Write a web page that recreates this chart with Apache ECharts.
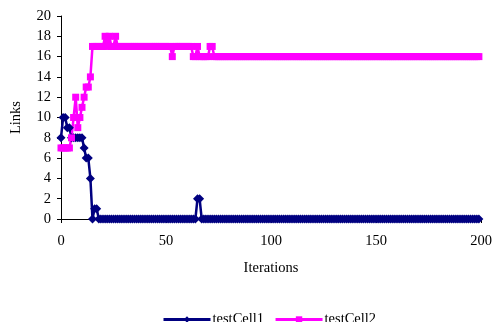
<!DOCTYPE html>
<html>
<head>
<meta charset="utf-8">
<script src="https://cdn.jsdelivr.net/npm/echarts@6/dist/echarts.min.js"></script>
<style>
html, body { margin: 0; padding: 0; background: #fff; }
#chart { width: 497px; height: 322px; }
</style>
</head>
<body>
<div id="chart"></div>
<script>
// values per iteration, starting at iteration 0
var testCell1 = [
	8, 10, 10, 9, 9, 8, 8, 8, 8, 8, 8, 7, 6, 6, 4, 0, 1, 1, 0, 0,
	0, 0, 0, 0, 0, 0, 0, 0, 0, 0, 0, 0, 0, 0, 0, 0, 0, 0, 0, 0,
	0, 0, 0, 0, 0, 0, 0, 0, 0, 0, 0, 0, 0, 0, 0, 0, 0, 0, 0, 0,
	0, 0, 0, 0, 0, 2, 2, 0, 0, 0, 0, 0, 0, 0, 0, 0, 0, 0, 0, 0,
	0, 0, 0, 0, 0, 0, 0, 0, 0, 0, 0, 0, 0, 0, 0, 0, 0, 0, 0, 0,
	0, 0, 0, 0, 0, 0, 0, 0, 0, 0, 0, 0, 0, 0, 0, 0, 0, 0, 0, 0,
	0, 0, 0, 0, 0, 0, 0, 0, 0, 0, 0, 0, 0, 0, 0, 0, 0, 0, 0, 0,
	0, 0, 0, 0, 0, 0, 0, 0, 0, 0, 0, 0, 0, 0, 0, 0, 0, 0, 0, 0,
	0, 0, 0, 0, 0, 0, 0, 0, 0, 0, 0, 0, 0, 0, 0, 0, 0, 0, 0, 0,
	0, 0, 0, 0, 0, 0, 0, 0, 0, 0, 0, 0, 0, 0, 0, 0, 0, 0, 0, 0
];
var testCell2 = [
	7, 7, 7, 7, 7, 8, 10, 12, 9, 10, 11, 12, 13, 13, 14, 17, 17, 17, 17, 17,
	17, 18, 17, 18, 17, 17, 18, 17, 17, 17, 17, 17, 17, 17, 17, 17, 17, 17, 17, 17,
	17, 17, 17, 17, 17, 17, 17, 17, 17, 17, 17, 17, 17, 16, 17, 17, 17, 17, 17, 17,
	17, 17, 17, 16, 16, 17, 16, 16, 16, 16, 16, 17, 17, 16, 16, 16, 16, 16, 16, 16,
	16, 16, 16, 16, 16, 16, 16, 16, 16, 16, 16, 16, 16, 16, 16, 16, 16, 16, 16, 16,
	16, 16, 16, 16, 16, 16, 16, 16, 16, 16, 16, 16, 16, 16, 16, 16, 16, 16, 16, 16,
	16, 16, 16, 16, 16, 16, 16, 16, 16, 16, 16, 16, 16, 16, 16, 16, 16, 16, 16, 16,
	16, 16, 16, 16, 16, 16, 16, 16, 16, 16, 16, 16, 16, 16, 16, 16, 16, 16, 16, 16,
	16, 16, 16, 16, 16, 16, 16, 16, 16, 16, 16, 16, 16, 16, 16, 16, 16, 16, 16, 16,
	16, 16, 16, 16, 16, 16, 16, 16, 16, 16, 16, 16, 16, 16, 16, 16, 16, 16, 16, 16
];
var seriesNames = ['testCell1', 'testCell2'];
var xTicks = [0, 50, 100, 150, 200];
var yTicks = [0, 2, 4, 6, 8, 10, 12, 14, 16, 18, 20];

function pairs(values) {
	return values.map(function(v, i) { return [i, v]; });
}

var font = '"Liberation Serif", "Times New Roman", serif';
var axisText = { color: '#000', fontFamily: font, fontSize: 14.5 };

var option = {
	animation: false,
	backgroundColor: '#fff',
	textStyle: { fontFamily: font },
	grid: {
		left: 61,
		right: 16,
		top: 16,
		bottom: 103,
		containLabel: false
	},
	legend: {
		data: seriesNames,
		left: 157,
		top: 307,
		itemWidth: 47,
		itemHeight: 8,
		itemGap: 10,
		lineStyle: { width: 3 },
		textStyle: { color: '#000', fontFamily: font, fontSize: 14.5, padding: [0, 0, 0, -3] }
	},
	xAxis: {
		type: 'value',
		min: xTicks[0],
		max: xTicks[xTicks.length - 1],
		interval: 50,
		name: 'Iterations',
		nameLocation: 'middle',
		nameGap: 42,
		nameTextStyle: axisText,
		axisLine: { lineStyle: { color: '#000', width: 1 } },
		axisTick: { show: true, length: 4, lineStyle: { color: '#000' } },
		axisLabel: Object.assign({ margin: 15 }, axisText),
		splitLine: { show: false }
	},
	yAxis: {
		type: 'value',
		min: yTicks[0],
		max: yTicks[yTicks.length - 1],
		interval: 2,
		name: 'Links',
		nameLocation: 'middle',
		nameGap: 37,
		nameRotate: 90,
		nameTextStyle: axisText,
		axisLine: { show: true, lineStyle: { color: '#000', width: 1 } },
		axisTick: { show: true, length: 4, lineStyle: { color: '#000' } },
		axisLabel: Object.assign({ margin: 10 }, axisText),
		splitLine: { show: false }
	},
	series: [{
		name: seriesNames[0],
		type: 'line',
		data: pairs(testCell1),
		symbol: 'diamond',
		symbolSize: 9,
		showAllSymbol: true,
		lineStyle: { color: '#000080', width: 2.5 },
		itemStyle: { color: '#000080' }
	}, {
		name: seriesNames[1],
		type: 'line',
		data: pairs(testCell2),
		symbol: 'rect',
		symbolSize: 7,
		showAllSymbol: true,
		lineStyle: { color: '#FF00FF', width: 2.5 },
		itemStyle: { color: '#FF00FF' }
	}]
};

var chart = echarts.init(document.getElementById('chart'), null, { renderer: 'canvas' });
chart.setOption(option, true);
</script>
</body>
</html>
